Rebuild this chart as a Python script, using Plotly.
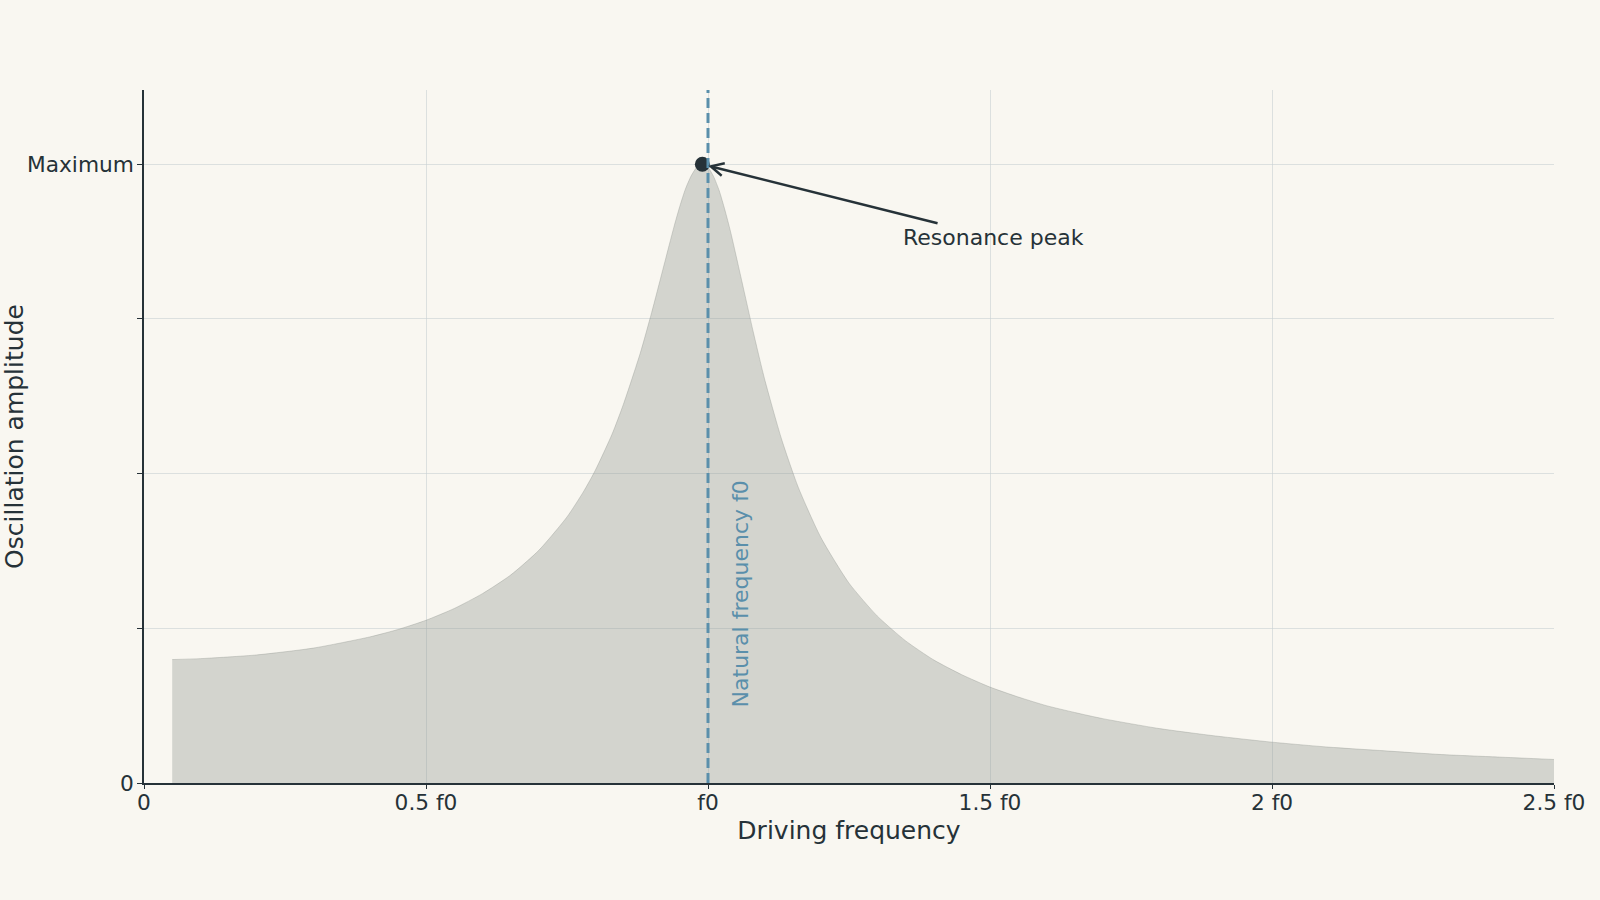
import plotly.graph_objects as go

# driving frequency in units of f0, amplitude relative to the peak
freq = [0.05, 0.1, 0.2, 0.3, 0.4, 0.45, 0.5, 0.55, 0.6, 0.65, 0.7, 0.75, 0.78, 0.8, 0.83, 0.85, 0.88,
        0.9, 0.92, 0.94, 0.95, 0.96, 0.97, 0.98, 0.99, 1.0, 1.01, 1.02, 1.03, 1.04, 1.06, 1.08, 1.1,
        1.13, 1.16, 1.2, 1.25, 1.3, 1.35, 1.4, 1.45, 1.5, 1.55, 1.6, 1.65, 1.7, 1.8, 1.9, 2.0,
        2.1, 2.2, 2.3, 2.4, 2.5]
amplitude = [0.1995, 0.201, 0.207, 0.218, 0.236, 0.248, 0.263, 0.282, 0.306, 0.336, 0.376, 0.430, 0.472, 0.505, 0.564, 0.612, 0.695,
             0.760, 0.830, 0.900, 0.932, 0.960, 0.981, 0.995, 1.0, 0.995, 0.980, 0.957, 0.926, 0.891, 0.811, 0.730, 0.654,
             0.557, 0.478, 0.397, 0.323, 0.270, 0.230, 0.199, 0.175, 0.155, 0.139, 0.125, 0.114, 0.104, 0.088, 0.076, 0.066,
             0.058, 0.052, 0.046, 0.042, 0.038]

peak_freq = 0.99
peak_amp = 1.0
natural_freq = 1.0

x_tickvals = [0, 0.5, 1, 1.5, 2, 2.5]
x_ticktext = ["0", "0.5 f0", "f0", "1.5 f0", "2 f0", "2.5 f0"]
y_tickvals = [0, 0.25, 0.5, 0.75, 1.0]
y_ticktext = ["0", "", "", "", "Maximum"]

ink = "#263238"
accent = "#5a8fab"
bg = "#f9f7f1"

fig = go.Figure()

fig.add_trace(go.Scatter(
    x=freq, y=amplitude,
    mode="lines",
    line=dict(color="rgba(140,145,140,0.35)", width=1, shape="spline", smoothing=0.6),
    fill="tozeroy",
    fillcolor="rgba(140,145,140,0.35)",
    hoverinfo="skip",
    showlegend=False,
))

fig.add_vline(x=natural_freq, line_dash="10px,5px", line_color=accent, line_width=3)

fig.add_trace(go.Scatter(
    x=[peak_freq], y=[peak_amp],
    mode="markers",
    marker=dict(color=ink, size=15),
    showlegend=False,
))

fig.add_annotation(
    x=peak_freq, y=peak_amp, xref="x", yref="y",
    text="Resonance peak",
    font=dict(size=22, color=ink),
    showarrow=True, arrowhead=5, arrowsize=1, arrowwidth=2.5, arrowcolor=ink,
    ax=291, ay=73, standoff=6,
)

fig.add_annotation(
    x=1.057, y=0.305, xref="x", yref="y",
    text="Natural frequency f0",
    textangle=-90,
    font=dict(size=22, color=accent),
    showarrow=False,
)

fig.update_xaxes(
    range=[0, 2.5],
    tickvals=x_tickvals, ticktext=x_ticktext,
    title=dict(text="Driving frequency", font=dict(size=25, color=ink), standoff=8),
    tickfont=dict(size=21.7, color=ink),
    showline=True, linecolor=ink, linewidth=1.5,
    ticks="outside", ticklen=4, tickcolor=ink, ticklabelstandoff=-5,
    showgrid=True, gridcolor="rgba(200,208,212,0.6)", gridwidth=1,
    zeroline=False, automargin=False,
)
fig.update_yaxes(
    range=[0, 1.12],
    tickvals=y_tickvals, ticktext=y_ticktext,
    title=dict(text="Oscillation amplitude", font=dict(size=25, color=ink), standoff=2),
    tickfont=dict(size=21.7, color=ink),
    showline=True, linecolor=ink, linewidth=1.5,
    ticks="outside", ticklen=5, tickcolor=ink, ticklabelstandoff=-1,
    showgrid=True, gridcolor="rgba(200,208,212,0.6)", gridwidth=1,
    zeroline=False, automargin=False,
)

fig.update_layout(
    width=1600, height=900,
    margin=dict(l=144, r=46, t=90, b=117),
    paper_bgcolor=bg, plot_bgcolor=bg,
    font=dict(family="DejaVu Sans", color=ink),
    showlegend=False,
)

# drop the default page margin so the figure fills the window
page_js = ("document.body.style.margin='0';"
           "document.body.style.overflow='hidden';"
           "document.body.style.background='" + bg + "';")
fig.write_html("out.html", post_script=page_js, config={"displayModeBar": False})
